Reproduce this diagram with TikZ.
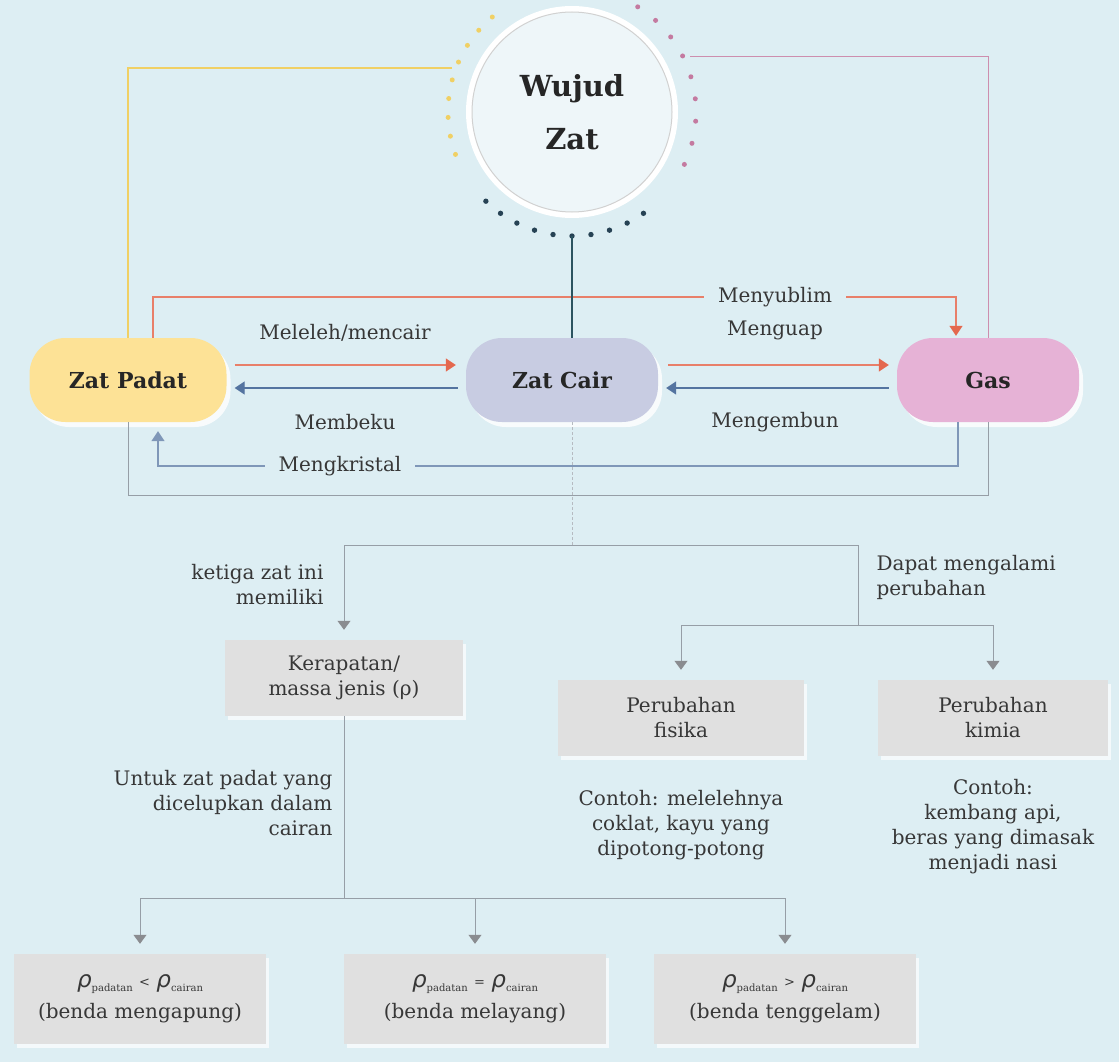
\documentclass[tikz,border=0pt]{standalone}
\usepackage{fontspec}
\usepackage{tikz}
\setmainfont{DejaVu Serif}
\newfontfamily\greekfont{DejaVu Sans}
\usetikzlibrary{arrows.meta,shadows}
\definecolor{bgcolor}{RGB}{221,238,243}
\definecolor{textcolor}{RGB}{55,55,55}
\definecolor{padatcolor}{RGB}{253,226,150}
\definecolor{caircolor}{RGB}{200,204,226}
\definecolor{gascolor}{RGB}{230,178,214}
\definecolor{meltcolor}{RGB}{228,104,78}
\definecolor{freezecolor}{RGB}{84,116,160}
\definecolor{linecolor}{RGB}{150,158,166}
\definecolor{tipcolor}{RGB}{138,140,144}
\definecolor{boxcolor}{RGB}{224,224,224}
\definecolor{yellowdot}{RGB}{240,208,100}
\definecolor{pinkdot}{RGB}{196,122,160}
\definecolor{navydot}{RGB}{38,66,84}
\definecolor{tealcolor}{RGB}{44,84,96}

\newcommand{\dens}[1]{{\fontsize{23}{25}\selectfont\greekfont\itshape ρ}\raisebox{-4pt}{\fontsize{10}{10}\selectfont #1}}
\newcommand{\rel}[1]{\raisebox{1pt}{\fontsize{13}{13}\selectfont #1}}

\tikzset{
  state/.style={rounded corners=36pt, minimum width=192pt, minimum height=84pt,
    font=\fontsize{22}{25}\selectfont\bfseries, text=black!85,
    drop shadow={fill=white, opacity=0.8, shadow xshift=4pt, shadow yshift=-5pt}},
  infobox/.style={fill=boxcolor, minimum height=76pt, align=center,
    font=\fontsize{20}{25}\selectfont, text=textcolor,
    drop shadow={fill=white, opacity=0.7, shadow xshift=3pt, shadow yshift=-4pt}},
  note/.style={font=\fontsize{20}{25}\selectfont, text=textcolor},
  hotarrow/.style={meltcolor!85, line width=1.2pt, -{Triangle[width=13pt,length=10pt,color=meltcolor]}},
  coldarrow/.style={freezecolor, line width=1.2pt, -{Triangle[width=13pt,length=10pt]}},
  greyarrow/.style={linecolor, line width=1pt, -{Triangle[width=13pt,length=9pt,color=tipcolor]}},
  greyline/.style={linecolor, line width=1pt}
}

\begin{document}
\begin{tikzpicture}[x=1pt,y=-1pt]
  \useasboundingbox (0,0) rectangle (1119,1062);
  \fill[bgcolor] (0,0) rectangle (1119,1062);

  % centre circle
  \node[circle, minimum size=206pt, draw=white, line width=6pt, fill=bgcolor!50!white,
        align=center, font=\fontsize{29}{53}\selectfont\bfseries, text=black!85] (wujud) at (572,112) {Wujud\\Zat};
  \draw[black!18, line width=1pt] (wujud.center) circle (100pt);
  \foreach \a in {130,138.75,...,200}
    \fill[yellowdot] (wujud.center) ++(\a:124pt) circle (2.5pt);
  \foreach \a in {58,47.625,...,-25}
    \fill[pinkdot] (wujud.center) ++(\a:124pt) circle (2.5pt);
  \foreach \a in {226,234.8,...,314}
    \fill[navydot] (wujud.center) ++(\a:124pt) circle (2.7pt);

  % the three states
  \node[state, fill=padatcolor, minimum width=197pt] (zp) at (128,380) {Zat Padat};
  \node[state, fill=caircolor] (zc) at (562,380) {Zat Cair};
  \node[state, fill=gascolor, minimum width=182pt] (gas) at (988,380) {Gas};

  \coordinate (ytap) at (452,68);
  \coordinate (ptap) at (690,57);
  \draw[yellowdot, line width=1.2pt] (ytap) -| (zp.north);
  \draw[pinkdot!85!white, line width=1pt] (ptap) -| (gas.north);

  % frame under the states
  \coordinate (frame) at (988,495);
  \draw[greyline] (zp.south) |- (frame) -- (gas.south);

  % changes of state
  \coordinate (sub) at (956,297);
  \draw[hotarrow, shorten >=2pt] ([xshift=25pt]zp.north) |- (sub) -- (sub |- gas.north);
  \node[note, fill=bgcolor, inner xsep=14pt] (lsub) at (775,297) {Menyublim};

  \draw[hotarrow, shorten <=8pt, shorten >=10pt] ([yshift=15pt]zp.east) -- ([yshift=15pt]zc.west);
  \draw[coldarrow, shorten <=8pt, shorten >=8pt] ([yshift=-8pt]zc.west) -- ([yshift=-8pt]zp.east);
  \draw[hotarrow, shorten <=10pt, shorten >=8pt] ([yshift=15pt]zc.east) -- ([yshift=15pt]gas.west);
  \draw[coldarrow, shorten <=8pt, shorten >=8pt] ([yshift=-8pt]gas.west) -- ([yshift=-8pt]zc.east);
  \node[note] (lmelt) at (345,333) {Meleleh/mencair};
  \node[note] (lfreeze) at (345,422) {Membeku};
  \node[note] (lvap) at (775,330) {Menguap};
  \node[note] (lcond) at (775,422) {Mengembun};

  \coordinate (kris) at (158,466);
  \draw[coldarrow, freezecolor!75, shorten >=9pt] ([xshift=-30pt]gas.south) |- (kris) -- (kris |- zp.south);
  \node[note, fill=bgcolor, inner xsep=14pt] (lkris) at (340,466) {Mengkristal};

  \coordinate (wbot) at (572,236);
  \draw[tealcolor, line width=1.2pt] (wbot) -- (wbot |- zc.north);

  % lower part
  \coordinate (split) at (572,545);
  \coordinate (fork) at (858,625);
  \draw[linecolor!70, line width=0.8pt, densely dashed] (wbot |- zc.south) -- (split);

  \node[infobox, minimum width=238pt] (kr) at (344,678) {Kerapatan/\\massa jenis (ρ)};
  \node[infobox, minimum width=246pt] (pf) at (681,718) {Perubahan\\fisika};
  \node[infobox, minimum width=230pt] (pk) at (993,718) {Perubahan\\kimia};

  \draw[greyarrow, shorten >=10pt] (split) -| (kr.north);
  \draw[greyline] (split) -| (fork);
  \draw[greyarrow, shorten >=10pt] (fork) -| (pf.north);
  \draw[greyarrow, shorten >=10pt] (fork) -| (pk.north);

  \node[note, align=right, anchor=east] (nket) at (327,585) {ketiga zat ini\\memiliki};
  \node[note, align=left, anchor=west] (ndap) at (873,577) {Dapat mengalami\\perubahan};
  \node[note, align=right, anchor=east] (nunt) at (336,803) {Untuk zat padat yang\\dicelupkan dalam\\cairan};
  \node[note, align=center] (nfis) at (681,825) {Contoh: melelehnya\\coklat, kayu yang\\dipotong-potong};
  \node[note, align=center] (nkim) at (993,827) {Contoh:\\kembang api,\\beras yang dimasak\\menjadi nasi};

  \node[infobox, minimum width=252pt, minimum height=90pt] (b1) at (140,999) {\dens{padatan} \rel{<} \dens{cairan}\\[6pt](benda mengapung)};
  \node[infobox, minimum width=262pt, minimum height=90pt] (b2) at (475,999) {\dens{padatan} \rel{=} \dens{cairan}\\[6pt](benda melayang)};
  \node[infobox, minimum width=262pt, minimum height=90pt] (b3) at (785,999) {\dens{padatan} \rel{>} \dens{cairan}\\[6pt](benda tenggelam)};

  \coordinate (dip) at (kr.south |- 0,898);
  \draw[greyline] (kr.south) -- (dip);
  \draw[greyarrow, shorten >=10pt] (dip) -| (b1.north);
  \draw[greyarrow, shorten >=10pt] (dip) -| (b2.north);
  \draw[greyarrow, shorten >=10pt] (dip) -| (b3.north);
\end{tikzpicture}
\end{document}
